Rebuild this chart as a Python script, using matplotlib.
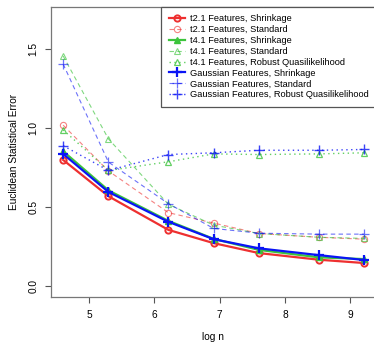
import numpy as np
import matplotlib
matplotlib.use("Agg")
import matplotlib.pyplot as plt

plt.rcParams['font.family'] = ['Liberation Sans', 'DejaVu Sans']

# log n for n = 100, 200, 500, 1000, 2000, 5000, 10000
n_vals = [100, 200, 500, 1000, 2000, 5000, 10000]
log_n = np.log(n_vals)

t2_shrink = [0.80, 0.57, 0.357, 0.273, 0.21, 0.168, 0.147]
t2_standard = [1.02, 0.73, 0.466, 0.40, 0.334, 0.31, 0.298]
t4_shrink = [0.855, 0.607, 0.414, 0.30, 0.23, 0.183, 0.172]
t4_standard = [1.458, 0.933, 0.519, 0.387, 0.334, 0.31, 0.303]
t4_robust = [0.99, 0.733, 0.788, 0.838, 0.834, 0.838, 0.845]
g_shrink = [0.838, 0.597, 0.408, 0.298, 0.24, 0.197, 0.166]
g_standard = [1.407, 0.786, 0.523, 0.366, 0.336, 0.33, 0.33]
g_robust = [0.89, 0.733, 0.834, 0.845, 0.861, 0.861, 0.866]

labels = ["t2.1 Features, Shrinkage", "t2.1 Features, Standard",
          "t4.1 Features, Shrinkage", "t4.1 Features, Standard",
          "t4.1 Features, Robust Quasilikelihood",
          "Gaussian Features, Shrinkage", "Gaussian Features, Standard",
          "Gaussian Features, Robust Quasilikelihood"]

red = "#EE3030"
green = "#3CC43C"
blue = "#0A14F5"

fig = plt.figure(figsize=(3.74, 3.43), dpi=100)
ax = fig.add_axes([51 / 374, 46 / 343, 325 / 374, 290 / 343])

dash = (0, (4, 3))
dot = (0, (1, 2.5))

ax.plot(log_n, t2_shrink, color=red, lw=1.6, marker="o", ms=4.5, mfc="none", mew=1.4, label=labels[0])
ax.plot(log_n, t2_standard, color=red, lw=0.8, ls=dash, alpha=0.6, marker="o", ms=4.5, mfc="none", mew=0.8, label=labels[1])
ax.plot(log_n, t4_shrink, color=green, lw=1.6, marker="^", ms=4.5, label=labels[2])
ax.plot(log_n, t4_standard, color=green, lw=0.8, ls=dash, alpha=0.65, marker="^", ms=5, mfc="none", mew=0.8, label=labels[3])
ax.plot(log_n, t4_robust, color=green, lw=1.0, ls=dot, alpha=0.8, marker="^", ms=5, mfc="none", mew=0.9, label=labels[4])
ax.plot(log_n, g_shrink, color=blue, lw=1.6, marker="+", ms=6.5, mew=1.6, label=labels[5])
ax.plot(log_n, g_standard, color=blue, lw=0.8, ls=dash, alpha=0.6, marker="+", ms=6.5, mew=0.9, label=labels[6])
ax.plot(log_n, g_robust, color=blue, lw=1.0, ls=dot, alpha=0.8, marker="+", ms=6.5, mew=1.0, label=labels[7])

ax.set_xlim(4.42, 9.39)
ax.set_ylim(-0.068, 1.768)
ax.set_xticks([5, 6, 7, 8, 9])
ax.set_yticks([0.0, 0.5, 1.0, 1.5])
ax.set_yticklabels(["0.0", "0.5", "1.0", "1.5"], rotation=90, va="center")
ax.tick_params(labelsize=7.3, length=4, color="#555555", width=0.8, pad=5)
for s in ax.spines.values():
    s.set_color("#777777")
    s.set_linewidth(0.9)

ax.set_xlabel("log n", fontsize=7.3, labelpad=9)
ax.set_ylabel("Euclidean Statistical Error", fontsize=7.3, labelpad=7)

leg = ax.legend(loc="upper right", bbox_to_anchor=(1.0, 1.0), borderaxespad=0,
                fontsize=6.7, handlelength=1.75, handletextpad=0.5,
                labelspacing=0.2, borderpad=0.8, fancybox=False,
                framealpha=1, edgecolor="#555555")
leg.get_frame().set_linewidth(0.9)

fig.savefig("out.png", dpi=100)
